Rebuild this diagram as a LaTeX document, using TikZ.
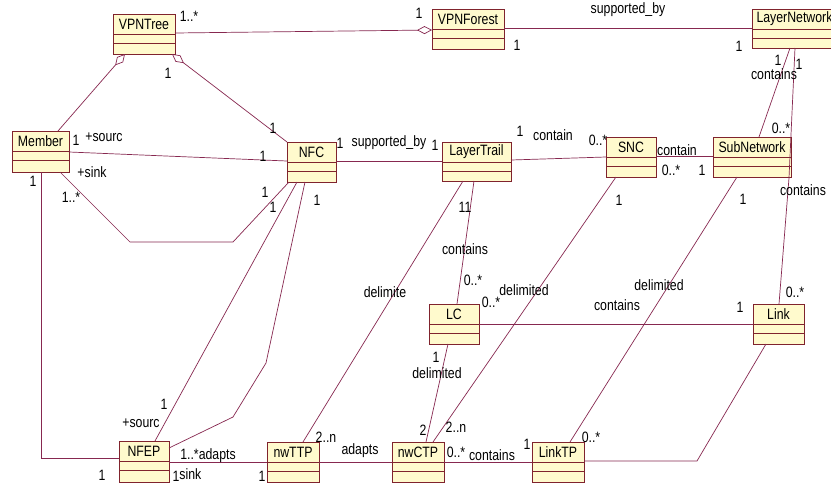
\documentclass[tikz,border=0pt]{standalone}
\usepackage{fontspec}
\setmainfont{Liberation Sans}
\usepackage{graphicx}
\usetikzlibrary{arrows.meta}
\definecolor{lc}{RGB}{135,40,80}
\definecolor{bc}{RGB}{128,35,45}
\definecolor{bf}{RGB}{255,250,205}
\newcommand\tx[1]{\scalebox{1}[1.22]{#1}}
\tikzset{
  cls/.style={draw=bc, fill=bf, line width=0.8pt, inner sep=0pt, outer sep=0pt},
  asc/.style={draw=lc, line width=0.7pt},
  lbl/.style={inner sep=0pt, font=\fontsize{12.3}{14}\selectfont},
  agg/.style={asc, {Diamond[open, length=15pt, width=8pt]}-}
}
\newcommand\umlcls[6]{%
  \node[cls, minimum width={#4-#2}, minimum height={#5-#3}] (#1) at ({(#2+#4)/2},{(#3+#5)/2}) {};
  \draw[bc, line width=0.8pt] ([yshift=-20pt]#1.north west) -- ([yshift=-20pt]#1.north east)
        ([yshift=-29pt]#1.north west) -- ([yshift=-29pt]#1.north east);
  \node[lbl] at ([yshift=-10pt]#1.north) {\tx{#6}};
}
\newcommand\lab[3]{\node[lbl] at (#1,#2) {\tx{#3}};}
\begin{document}
\begin{tikzpicture}[x=1pt, y=-1pt]
\fill[white] (0,0) rectangle (831,485);
\useasboundingbox (0,0) rectangle (831,485);

% classes
\umlcls{VPNTree}{113}{14}{175}{54}{VPNTree}
\umlcls{VPNForest}{432}{9}{504}{49}{VPNForest}
\umlcls{LayerNetwork}{752}{9}{837}{48}{LayerNetwork}
\umlcls{Member}{12}{131}{69}{172}{Member}
\umlcls{NFC}{287}{142}{336}{182}{NFC}
\umlcls{LayerTrail}{442}{142}{511}{181}{LayerTrail}
\umlcls{SNC}{606}{137}{656}{177}{SNC}
\umlcls{SubNetwork}{713}{137}{791}{177}{SubNetwork}
\umlcls{LC}{429}{304}{479}{344}{LC}
\umlcls{Link}{753}{304}{804}{344}{Link}
\umlcls{NFEP}{119}{441}{169}{482}{NFEP}
\umlcls{nwTTP}{267}{442}{319}{482}{nwTTP}
\umlcls{nwCTP}{392}{442}{444}{482}{nwCTP}
\umlcls{LinkTP}{532}{442}{584}{482}{LinkTP}

% connectors
\draw[asc, -{Diamond[open, length=15pt, width=8pt]}] ([yshift=-19pt]VPNTree.north east) -- ([yshift=-21pt]VPNForest.north west);
\draw[asc] ([yshift=-19pt]VPNForest.north east) -- ([yshift=-19pt]LayerNetwork.north west);
\draw[agg] ([xshift=12pt]VPNTree.south west) -- ([xshift=46pt]Member.north west);
\draw[agg] ([xshift=-3pt]VPNTree.south east) -- (NFC.north west);
\draw[asc] ([yshift=-21pt]Member.north east) -- ([yshift=-19pt]NFC.north west);
\draw[asc] ([xshift=48pt]Member.south west) -- (130,242) -- (233,242) -- ([xshift=2pt]NFC.south west);
\draw[asc] ([xshift=29pt]Member.south west) -- (41,458) -- ([yshift=-17pt]NFEP.north west);
\draw[asc] ([xshift=10pt]NFC.south west) -- ([xshift=36pt]NFEP.north west);
\draw[asc] ([xshift=18pt]NFC.south west) -- (266,363) -- (233,417) -- ([yshift=-7pt]NFEP.north east);
\draw[asc] ([yshift=-19pt]NFC.north east) -- ([yshift=-19pt]LayerTrail.north west);
\draw[asc] ([yshift=-18pt]LayerTrail.north east) -- ([yshift=-20pt]SNC.north west);
\draw[asc] ([yshift=-19pt]SNC.north east) -- ([yshift=-19pt]SubNetwork.north west);
\draw[asc] ([xshift=38pt]LayerNetwork.south west) -- ([xshift=46pt]SubNetwork.north west);
\draw[asc] ([xshift=43pt]LayerNetwork.south west) -- (789,178) -- ([xshift=26pt]Link.north west);
\draw[asc] ([xshift=32pt]LayerTrail.south west) -- ([xshift=28pt]LC.north west);
\draw[asc] ([xshift=21pt]LayerTrail.south west) -- ([xshift=36pt]nwTTP.north west);
\draw[asc] ([xshift=10pt]SNC.south west) -- ([xshift=41pt]nwCTP.north west);
\draw[asc] ([xshift=19pt]LC.south west) -- ([xshift=34pt]nwCTP.north west);
\draw[asc] ([yshift=-20pt]LC.north east) -- ([yshift=-20pt]Link.north west);
\draw[asc] ([xshift=24pt]SubNetwork.south west) -- ([xshift=38pt]LinkTP.north west);
\draw[asc] ([xshift=13pt]Link.south west) -- (697,461) -- ([yshift=-19pt]LinkTP.north east);
\draw[asc] ([yshift=-21pt]NFEP.north east) -- ([yshift=-20pt]nwTTP.north west);
\draw[asc] ([yshift=-20pt]nwTTP.north east) -- ([yshift=-20pt]nwCTP.north west);
\draw[asc] ([yshift=-20pt]nwCTP.north east) -- ([yshift=-20pt]LinkTP.north west);

% labels
\lab{189}{16}{1..*}
\lab{168}{73}{1}
\lab{419}{13}{1}
\lab{517}{45}{1}
\lab{628}{10}{supported\_by}
\lab{739}{46}{1}
\lab{778}{60}{1}
\lab{774}{74}{contains}
\lab{799}{64}{1}
\lab{781}{128}{0..*}
\lab{76}{140}{1}
\lab{104}{137}{+sourc}
\lab{263}{156}{1}
\lab{273}{128}{1}
\lab{92}{172}{+sink}
\lab{71}{197}{1..*}
\lab{33}{181}{1}
\lab{265}{192}{1}
\lab{273}{207}{1}
\lab{317}{200}{1}
\lab{340}{143}{1}
\lab{389}{143}{supported\_by}
\lab{435}{145}{1}
\lab{520}{131}{1}
\lab{553}{135}{contain}
\lab{598}{140}{0..*}
\lab{677}{150}{contain}
\lab{671}{170}{0..*}
\lab{702}{170}{1}
\lab{803}{190}{contains}
\lab{619}{200}{1}
\lab{743}{199}{1}
\lab{465}{207}{11}
\lab{465}{249}{contains}
\lab{473}{280}{0..*}
\lab{385}{292}{delimite}
\lab{524}{290}{delimited}
\lab{491}{302}{0..*}
\lab{617}{305}{contains}
\lab{740}{307}{1}
\lab{659}{285}{delimited}
\lab{795}{292}{0..*}
\lab{436}{357}{1}
\lab{437}{373}{delimited}
\lab{423}{430}{2}
\lab{456}{427}{2..n}
\lab{326}{437}{2..n}
\lab{360}{451}{adapts}
\lab{456}{452}{0..*}
\lab{492}{455}{contains}
\lab{527}{444}{1}
\lab{591}{437}{0..*}
\lab{164}{404}{1}
\lab{141}{423}{+sourc}
\lab{102}{475}{1}
\lab{208}{456}{1..*adapts}
\lab{187}{475}{\raisebox{-1pt}{1}sink}
\lab{262}{476}{1}
\end{tikzpicture}
\end{document}
